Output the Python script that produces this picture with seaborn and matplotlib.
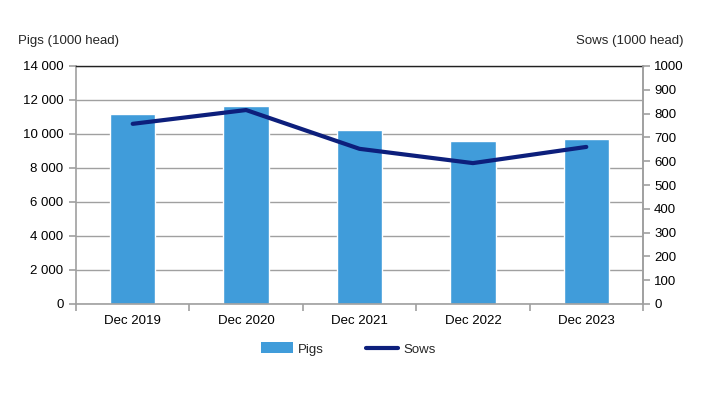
import matplotlib
matplotlib.use("Agg")
import matplotlib.pyplot as plt
import matplotlib.ticker as mticker
from matplotlib.lines import Line2D
from matplotlib.patches import Patch
import seaborn as sns
import pandas as pd

categories = ["Dec 2019", "Dec 2020", "Dec 2021", "Dec 2022", "Dec 2023"]
pigs = [11200, 11670, 10250, 9570, 9730]
sows = [757, 815, 652, 592, 660]

sns.set_theme(style="white")
plt.rcParams['font.family'] = ['Liberation Sans', 'DejaVu Sans']

df = pd.DataFrame({"period": categories, "pigs": pigs, "sows": sows})

fig = plt.figure(figsize=(7.13, 3.93), dpi=100)
ax = fig.add_axes([76/713, 1-304/393, (643-76)/713, (304-66)/393])

bar_color = "#409CDA"
line_color = "#0D1F7C"
grey = "#A0A0A0"
fs = 9.5

sns.barplot(data=df, x="period", y="pigs", color=bar_color, width=0.40,
            saturation=1, ax=ax, zorder=2)
ax.set_ylim(0, 14000)
ax.set_xlim(-0.5, len(categories) - 0.5)
ax.yaxis.set_major_locator(mticker.MultipleLocator(2000))
ax.yaxis.set_major_formatter(mticker.FuncFormatter(lambda v, p: f"{int(v):,}".replace(",", " ")))
ax.grid(axis="y", color=grey, linewidth=1.0, zorder=0)
ax.set_axisbelow(True)
ax.set_xlabel("")
ax.set_ylabel("")

for s in ["left", "bottom", "right"]:
    ax.spines[s].set_color(grey)
    ax.spines[s].set_linewidth(1.2)
ax.spines["top"].set_color("#222222")
ax.spines["top"].set_linewidth(1.0)

# x ticks at category boundaries
ax.set_xticks(range(len(categories)))
ax.set_xticklabels(categories, fontsize=fs)
ax.xaxis.set_minor_locator(mticker.FixedLocator([i - 0.5 for i in range(len(categories) + 1)]))
ax.tick_params(axis="x", which="major", length=0, pad=8, colors="black")
ax.tick_params(axis="x", which="minor", length=5, width=1.2, color=grey, direction="out", bottom=True)
ax.tick_params(axis="y", length=5, width=1.2, color=grey, direction="out", left=True,
               labelsize=fs, pad=4, labelcolor="black")

ax2 = ax.twinx()
sns.lineplot(data=df, x="period", y="sows", color=line_color, linewidth=3, ax=ax2,
             sort=False, zorder=3)
ax2.set_ylim(0, 1000)
ax2.yaxis.set_major_locator(mticker.MultipleLocator(100))
ax2.set_ylabel("")
ax2.set_xlabel("")
ax2.tick_params(axis="y", length=5, width=1.2, color=grey, direction="out", right=True,
                labelsize=fs, pad=3, labelcolor="black")
for s in ["left", "bottom", "top"]:
    ax2.spines[s].set_visible(False)
ax2.spines["right"].set_color(grey)
ax2.spines["right"].set_linewidth(1.2)
ax2.grid(False)
ax2.set_xlim(-0.5, len(categories) - 0.5)

fig.text(18/713, 1-41/393, "Pigs (1000 head)", fontsize=fs, ha="left", va="center")
fig.text(683/713, 1-41/393, "Sows (1000 head)", fontsize=fs, ha="right", va="center")

handles = [Patch(facecolor=bar_color, edgecolor="none"),
           Line2D([0], [0], color=line_color, linewidth=3)]
fig.legend(handles, ["Pigs", "Sows"], loc="center", bbox_to_anchor=(348.5/713, 1-349/393),
           ncol=2, frameon=False, fontsize=fs, handlelength=2.4, handleheight=0.9,
           columnspacing=3.2, handletextpad=0.4)

fig.savefig("out.png", dpi=100)
